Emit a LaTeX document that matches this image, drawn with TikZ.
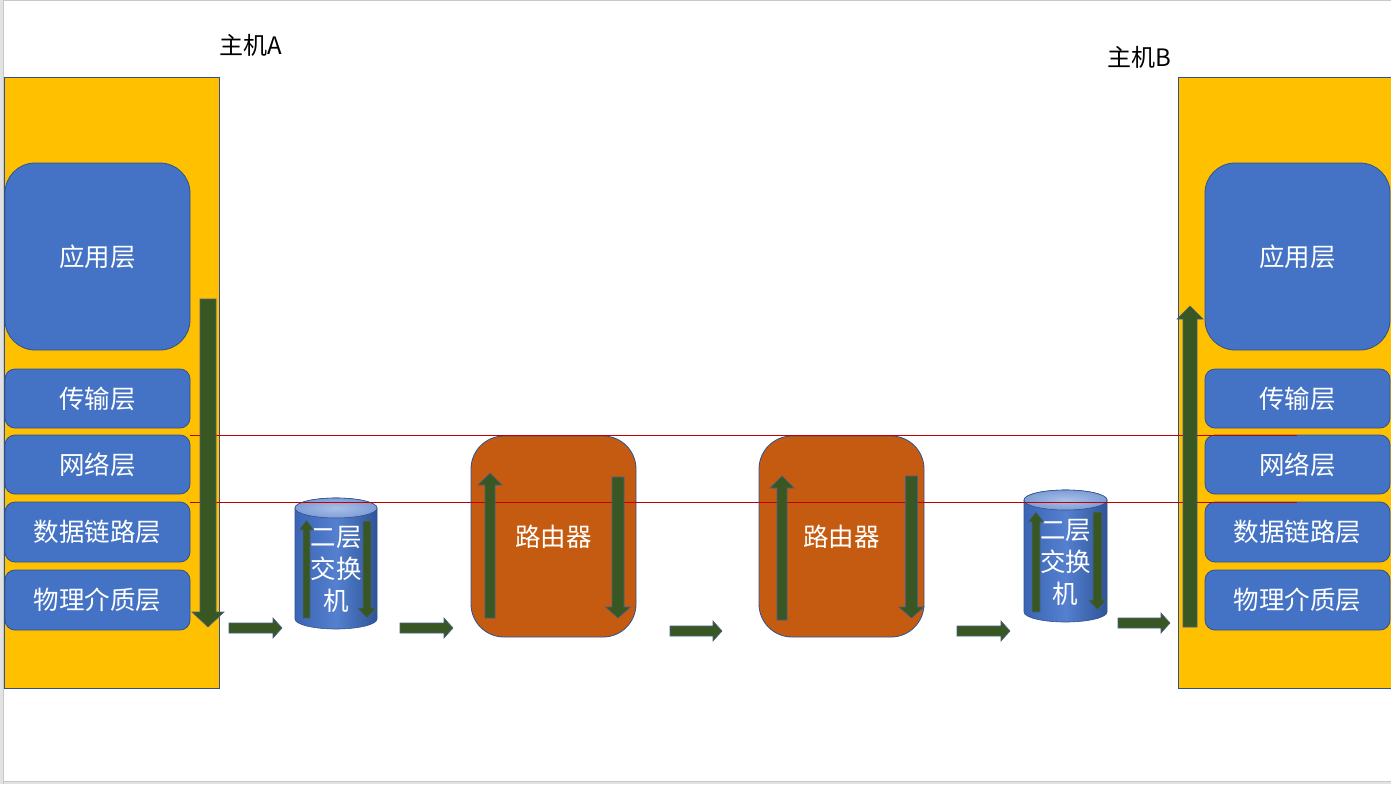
\documentclass[tikz,border=0pt]{standalone}
\usepackage{fontspec}
\setmainfont{Noto Sans CJK SC}
\definecolor{hostyellow}{HTML}{FFC000}
\definecolor{layerblue}{HTML}{4472C4}
\definecolor{edgeblue}{HTML}{2F528F}
\definecolor{routerorange}{HTML}{C55A11}
\definecolor{arrgreen}{HTML}{385723}
\definecolor{cutred}{HTML}{C00000}
\definecolor{cylleft}{HTML}{3A65B4}
\definecolor{cylmid}{HTML}{5580D0}
\definecolor{cylright}{HTML}{2E5598}
\definecolor{cyltopin}{HTML}{A9BFE6}
\definecolor{cyltopout}{HTML}{7F9DD6}
\definecolor{framegray}{HTML}{C8C8C8}
\definecolor{outgray}{HTML}{E2E2E2}
\tikzset{
  hostbox/.style={fill=hostyellow, draw=edgeblue, line width=0.8pt},
  layerbox/.style={fill=layerblue, draw=edgeblue, line width=0.8pt, text=white,
    inner sep=0pt, outer sep=0pt, rounded corners=10pt,
    minimum width=185pt, font=\fontsize{25.5}{30}\selectfont},
  routerbox/.style={fill=routerorange, draw=edgeblue, line width=0.8pt, text=white,
    inner sep=0pt, outer sep=0pt, rounded corners=33pt,
    minimum width=165pt, minimum height=201pt, font=\fontsize{25.5}{30}\selectfont},
  switchtext/.style={text=white, align=center, inner sep=0pt,
    font=\fontsize{25.5}{32}\selectfont},
  hostlabel/.style={anchor=west, inner sep=0pt, font=\fontsize{24}{28}\selectfont},
  arrfill/.style={fill=arrgreen, draw=edgeblue!70!gray, line width=0.6pt},
  cutline/.style={draw=cutred, line width=1pt},
}
% vertical down arrow: x, ytop, ytip, shaft hw, head hw, head len
\newcommand\downarr[6]{%
  \filldraw[arrfill] (#1-#4,#2) -- (#1+#4,#2) -- (#1+#4,#3-#6) -- (#1+#5,#3-#6) -- (#1,#3)
    -- (#1-#5,#3-#6) -- (#1-#4,#3-#6) -- cycle;}
% vertical up arrow: x, ytip, ybottom, shaft hw, head hw, head len
\newcommand\uparr[6]{%
  \filldraw[arrfill] (#1-#4,#3) -- (#1-#4,#2+#6) -- (#1-#5,#2+#6) -- (#1,#2)
    -- (#1+#5,#2+#6) -- (#1+#4,#2+#6) -- (#1+#4,#3) -- cycle;}
% horizontal right arrow: xstart, xtip, y, shaft hw, head hw, head len
\newcommand\rightarr[6]{%
  \filldraw[arrfill] (#1,#3-#4) -- (#2-#6,#3-#4) -- (#2-#6,#3-#5) -- (#2,#3)
    -- (#2-#6,#3+#5) -- (#2-#6,#3+#4) -- (#1,#3+#4) -- cycle;}
% cylinder: xcenter, ytopcenter, ybotcenter, rx, ry
\newcommand\cylshape[5]{%
  \shade[left color=cylleft, right color=cylright, middle color=cylmid, draw=edgeblue, line width=0.6pt]
    (#1-#4,#2) -- (#1-#4,#3) arc[start angle=180, end angle=360, x radius=#4pt, y radius=#5pt]
    -- (#1+#4,#2) arc[start angle=0, end angle=180, x radius=#4pt, y radius=#5pt] -- cycle;
  \shade[inner color=cyltopin, outer color=cyltopout, draw=edgeblue, line width=0.6pt]
    (#1,#2) ellipse[x radius=#4pt, y radius=#5pt];}
\begin{document}
\begin{tikzpicture}[x=1pt, y=-1pt]
  \useasboundingbox (0,0) rectangle (1391,784);
  % page frame
  \fill[white] (0,0) rectangle (1391,784);
  \fill[outgray] (0,0) rectangle (3,784);
  \fill[outgray] (0,782) rectangle (1391,784);
  \draw[framegray, line width=1pt] (3,784) -- (3,0.5) -- (1391,0.5);
  \draw[framegray, line width=1pt] (3,781.5) -- (1391,781.5);

  % hosts
  \draw[hostbox] (4,77) rectangle (219,688);
  \draw[hostbox] (1178,77) rectangle (1396,688);

  % layers host A
  \node[layerbox, minimum height=187pt, rounded corners=30pt] (aapp) at (97.5,256.5) {应用层};
  \node[layerbox, minimum height=59pt] (atrans) at (97.5,398.5) {传输层};
  \node[layerbox, minimum height=59pt] (anet) at (97.5,464.5) {网络层};
  \node[layerbox, minimum height=60pt] (alink) at (97.5,532) {数据链路层};
  \node[layerbox, minimum height=60pt] (aphy) at (97.5,600) {物理介质层};
  % layers host B
  \node[layerbox, minimum height=187pt, rounded corners=30pt] (bapp) at (1297.5,256.5) {应用层};
  \node[layerbox, minimum height=59pt] (btrans) at (1297.5,398.5) {传输层};
  \node[layerbox, minimum height=59pt] (bnet) at (1297.5,464.5) {网络层};
  \node[layerbox, minimum height=60pt] (blink) at (1297.5,532) {数据链路层};
  \node[layerbox, minimum height=60pt] (bphy) at (1297.5,600) {物理介质层};

  % routers
  \node[routerbox] (r1) at (553.5,536.5) {路由器};
  \node[routerbox] (r2) at (841.5,536.5) {路由器};

  % switches
  \cylshape{336}{508}{619}{41}{10}
  \node[switchtext] (s1) at (336,569) {二层\\交换\\机};
  \cylshape{1065.5}{500}{612}{41.5}{10}
  \node[switchtext] (s2) at (1065.5,562) {二层\\交换\\机};

  % layer boundary lines
  \draw[cutline] (190,435) -- (1297,435);
  \draw[cutline] (190,502) -- (1297,502);

  % vertical arrows
  \downarr{208}{299}{627}{8}{16}{15}
  \uparr{1190}{306}{627}{7}{13}{13}
  \uparr{306.5}{520}{618}{3.5}{7.5}{10}
  \downarr{367}{521}{618}{4}{9.5}{10}
  \uparr{1036}{512}{612}{4}{8}{10}
  \downarr{1097.5}{512}{610}{4.5}{9}{10}
  \uparr{490}{473}{618}{5}{12}{12}
  \downarr{618}{477}{618}{6}{12.5}{11}
  \uparr{782}{476}{620}{5}{12}{12}
  \downarr{911.5}{476}{618}{6}{12.5}{11}

  % horizontal arrows
  \rightarr{229}{282}{628}{5}{10}{9}
  \rightarr{400}{453}{628}{5}{10}{9}
  \rightarr{670}{722}{631}{5}{10}{9}
  \rightarr{957}{1010}{631}{5}{10}{9}
  \rightarr{1118}{1170}{623}{5}{10}{9}

  % host labels
  \node[hostlabel] (la) at (219,45) {主机A};
  \node[hostlabel] (lb) at (1107,57) {主机B};
\end{tikzpicture}
\end{document}
